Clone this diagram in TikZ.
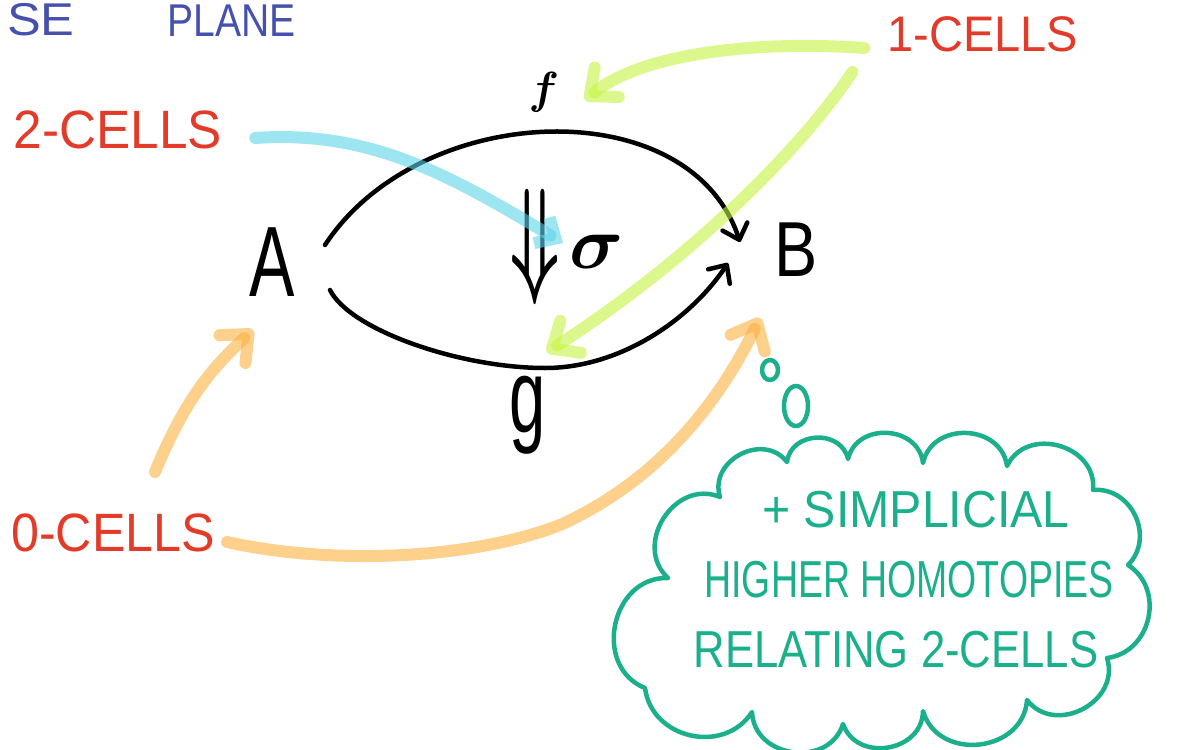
\documentclass[tikz,border=0pt]{standalone}
\usepackage{fontspec}
\usepackage{graphicx}
\setmainfont{Liberation Sans}
\usetikzlibrary{arrows.meta}
\definecolor{hlgreen}{HTML}{C4F440}
\definecolor{hlcyan}{HTML}{5BD3E8}
\definecolor{hlorange}{HTML}{FBB040}
\definecolor{redtxt}{HTML}{E23B2A}
\definecolor{bluetxt}{HTML}{4651AE}
\definecolor{cloudink}{HTML}{1BAF8C}
\newcommand\narrowtxt[2]{\scalebox{#1}[1]{#2}}
\newcommand\fsz[1]{\fontsize{#1}{#1}\selectfont}
\begin{document}
\begin{tikzpicture}[x=1pt,y=-1pt,
  hl/.style={line width=12pt, line cap=round, line join=round, opacity=0.6},
  ink/.style={line width=4.5pt, line cap=round, line join=round, draw=black},
  inktip/.style={-{Straight Barb[length=14pt,width=26pt,line cap=round,line join=round]}},
  hltip/.style={-{Straight Barb[length=22pt,width=38pt,line cap=round,line join=round]}},
  cellabel/.style={inner sep=0pt, text=redtxt},
  bigletter/.style={inner sep=0pt, text=black},
  cloudtxt/.style={inner sep=0pt, text=cloudink, font=\fsz{52}},
  cloudline/.style={line width=4.5pt, draw=cloudink, line cap=round, line join=round}
]
\useasboundingbox (0,0) rectangle (1177,749);

% top-left blue text
\node[inner sep=0pt, text=bluetxt, font=\fsz{46}, anchor=base west] (se) at (7,36) {\narrowtxt{1.1}{SE}};
\node[inner sep=0pt, text=bluetxt, font=\fsz{46}, anchor=base west] (plane) at (167,37) {\narrowtxt{0.85}{PLANE}};

% red labels
\node[cellabel, font=\fsz{50}] (L1) at (983,34) {\narrowtxt{0.94}{1-CELLS}};
\node[cellabel, font=\fsz{54}] (L2) at (118,130) {\narrowtxt{0.95}{2-CELLS}};
\node[cellabel, font=\fsz{54}] (L0) at (113,533) {\narrowtxt{0.93}{0-CELLS}};

% objects
\node[bigletter, font=\fsz{100}] (A) at (272,262) {\narrowtxt{0.68}{A}};
\node[bigletter, font=\fsz{78}] (B) at (796,250) {\narrowtxt{0.83}{B}};
\node[bigletter] (f) at (544,92) {\scalebox{4.5}{\boldmath$f$}};
\node[bigletter, font=\fsz{105}] (g) at (528,415) {\narrowtxt{0.62}{g}};
\node[bigletter] (sig) at (597,252) {\scalebox{7.5}{\boldmath$\sigma$}};
\node[bigletter] (dbl) at (535,247) {\scalebox{7}[13]{\boldmath$\Downarrow$}};

% 1-cells
\coordinate (a1) at (325,245);
\coordinate (b1) at (740,242);
\coordinate (a2) at (330,290);
\coordinate (b2) at (728,263);
\draw[ink, inktip] (a1) .. controls (420,100) and (690,90) .. (b1);
\draw[ink, inktip] (a2) .. controls (350,330) and (460,368) .. (545,368) .. controls (620,368) and (690,320) .. (b2);

% highlighter arrows
\coordinate (fend) at (585,100);
\coordinate (gend) at (547,352);
\coordinate (send) at (563,243);
\coordinate (aend) at (253,330);
\coordinate (bend) at (760,318);
\draw[hl, hltip, draw=hlgreen] ([shift={(-23,14)}]L1.west) .. controls (750,40) and (640,55) .. (fend);
\draw[hl, hltip, draw=hlgreen] ([shift={(-35,38)}]L1.west) .. controls (800,150) and (690,260) .. (gend);
\draw[hl, -{Straight Barb[length=16pt,width=30pt]}, draw=hlcyan] ([shift={(33,8)}]L2.east) .. controls (370,130) and (450,175) .. (send);
\draw[hl, hltip, draw=hlorange] (155,472) .. controls (185,400) and (210,370) .. (aend);
\draw[hl, hltip, draw=hlorange] ([shift={(12,9)}]L0.east) .. controls (330,565) and (470,560) .. (560,525) .. controls (660,480) and (720,400) .. (bend);

% thought bubbles
\draw[cloudline] (770,370) ellipse (8 and 10);
\draw[cloudline] (796,406) ellipse (12 and 20);

% cloud
\draw[cloudline] (720,497) to[bend left=80, looseness=1.3] (787,462)
  to[bend left=80, looseness=1.3] (848,459)
  to[bend left=80, looseness=1.3] (923,463)
  to[bend left=80, looseness=1.3] (1007,466)
  to[bend left=80, looseness=1.3] (1093,490)
  to[bend left=70, looseness=1.2] (1128,565)
  to[bend left=70, looseness=1.2] (1107,658)
  to[bend left=80, looseness=1.3] (1027,700)
  to[bend left=80, looseness=1.3] (923,711)
  to[bend left=80, looseness=1.3] (843,724)
  to[bend left=80, looseness=1.3] (752,712)
  to[bend left=70, looseness=1.2] (645,688)
  to[bend left=80, looseness=1.3] (668,578)
  to[bend left=80, looseness=1.3] cycle;

\node[cloudtxt] (c1) at (916,510) {\narrowtxt{0.93}{+ SIMPLICIAL}};
\node[cloudtxt] (c2) at (909,580) {\narrowtxt{0.72}{HIGHER HOMOTOPIES}};
\node[cloudtxt] (c3) at (896,650) {\narrowtxt{0.84}{RELATING 2-CELLS}};
\end{tikzpicture}
\end{document}
